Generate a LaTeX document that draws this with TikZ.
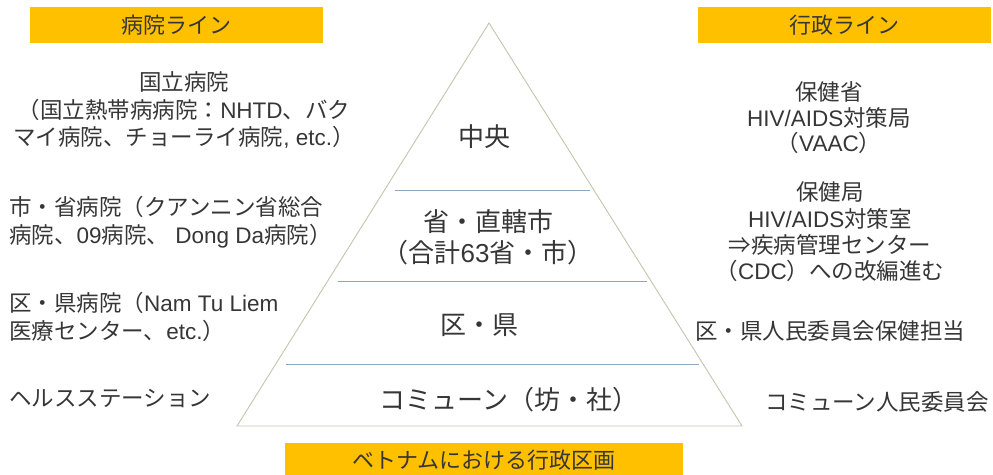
\documentclass[tikz,border=0pt]{standalone}
\usepackage{fontspec}
\setmainfont{Noto Sans CJK JP}
\newfontfamily\latfont{Liberation Sans}
\newcommand{\lat}[1]{{\latfont #1}}
\definecolor{bandyellow}{HTML}{FFC000}
\definecolor{txtgray}{HTML}{363636}
\definecolor{edgegray}{HTML}{C2C4AE}
\definecolor{divblue}{HTML}{8EA7BE}
\tikzset{
  band/.style={fill=bandyellow,minimum width=293,minimum height=36,inner sep=0pt,text=txtgray,font=\fontsize{22}{26}\selectfont},
  side/.style={text=txtgray,inner sep=0pt,font=\fontsize{22.5}{27.5}\selectfont},
  level/.style={text=txtgray,inner sep=0pt,font=\fontsize{26}{31}\selectfont},
}
\begin{document}
\begin{tikzpicture}[x=1pt,y=-1pt]
\useasboundingbox (0,0) rectangle (993,474);
\coordinate (apex) at (489,23);
\coordinate (bl) at (237,426);
\coordinate (br) at (742,426);
\draw[edgegray,line width=0.9pt] (apex)--(bl)--(br)--cycle;
\foreach \y in {190,281,364}
{
    \draw[divblue,line width=1pt] ({489-0.6253*(\y-23)+10},\y)--({489+0.6278*(\y-23)-4},\y);
}
\node[band] (hospline) at (176.5,25){病院ライン};
\node[band] (adminline) at (844.5,25){行政ライン};
\node[band,minimum width=398,minimum height=34] (title) at (484,460){ベトナムにおける行政区画};

\node[level] (central) at (484,137){中央};
\node[level,align=center] (province) at (488,237.5){省・直轄市\\（合計\lat{63}省・市）};
\node[level] (district) at (479,325){区・県};
\node[level] (commune) at (509,400){コミューン（坊・社）};

\node[side,align=center] (national) at (184,110){国立病院\\（国立熱帯病病院：\lat{NHTD}、バク\\マイ病院、チョーライ病院\lat{, etc.}）};
\node[side,align=left,anchor=west] (provhosp) at (9,222){市・省病院（クアンニン省総合\\病院、\lat{09}病院、\lat{ Dong Da}病院）};
\node[side,align=left,anchor=west] (disthosp) at (9,317){区・県病院（\lat{Nam Tu Liem}\\医療センター、\lat{etc.}）};
\node[side,anchor=west] (station) at (9,398){ヘルスステーション};

\node[side,align=center,font=\fontsize{22.5}{25.5}\selectfont] (ministry) at (829,118){保健省\\\lat{HIV/AIDS}対策局\\（\lat{VAAC}）};
\node[side,align=center,font=\fontsize{22.5}{26.3}\selectfont] (healthdept) at (830,232){保健局\\\lat{HIV/AIDS}対策室\\⇒疾病管理センター\\（\lat{CDC}）への改編進む};
\node[side] (distcomm) at (830,331){区・県人民委員会保健担当};
\node[side] (commcomm) at (877,402){コミューン人民委員会};
\end{tikzpicture}
\end{document}
